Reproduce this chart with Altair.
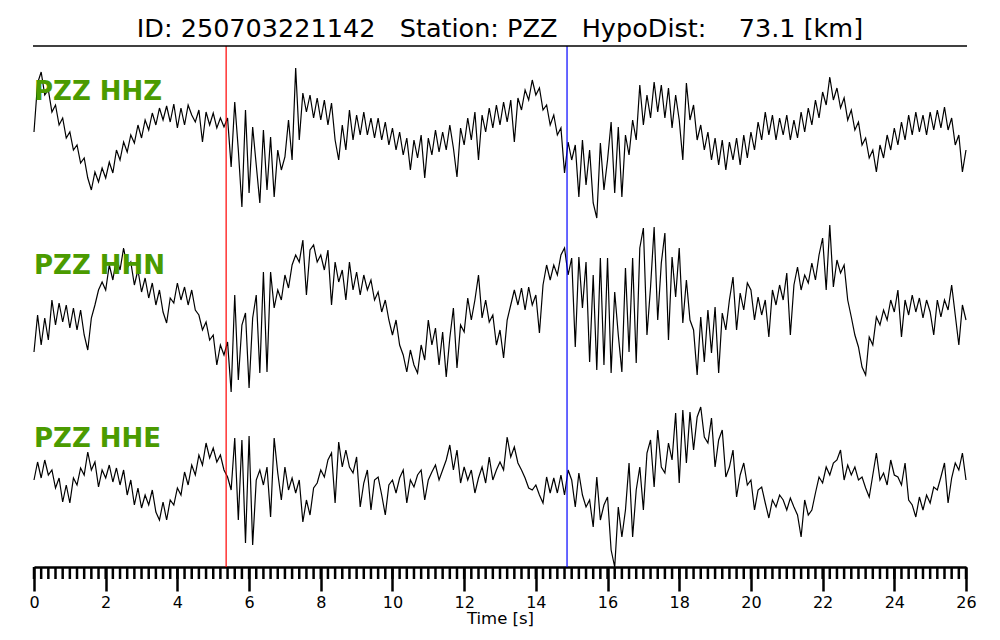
import altair as alt
import pandas as pd

# ---------------- data (amplitudes, one row per second, 0.1 s samples)
channels = ["PZZ HHZ", "PZZ HHN", "PZZ HHE"]
dt = 0.1
p_time = 5.36
s_time = 14.87
title_text = "ID: 250703221142\u00a0\u00a0\u00a0Station: PZZ\u00a0\u00a0\u00a0HypoDist:\u00a0\u00a0\u00a0\u00a073.1 [km]"
major_ticks = [0, 2, 4, 6, 8, 10, 12, 14, 16, 18, 20, 22, 24, 26]
minor_ticks = [round(i * 0.2, 1) for i in range(131)]

hhz = [
    -2, 47, 58, 35, 40, 18, 25, 5, 12, -8,
    -2, -20, -15, -33, -28, -48, -60, -42, -52, -38,
    -48, -32, -43, -20, -30, -12, -22, -5, -13, 5,
    -8, 10, 0, 17, 5, 22, 10, 24, 8, 26,
    2, 22, 5, 25, 15, 8, 20, -12, 18, 5,
    17, 2, 12, 3, 12, -37, 28, -20, -77, 20,
    -63, 3, -35, -73, 0, -60, -7, -67, -20, -40,
    -27, 10, -30, 62, -10, 37, 18, 35, 12, 32,
    10, 30, 5, 27, -10, -30, 5, -20, 20, -10,
    15, -5, 18, -5, 12, -8, 12, -10, 8, -15,
    2, -20, -2, -25, -8, -40, -10, -28, -5, -48,
    -8, -25, 0, -22, -2, -20, 5, -18, -47, 2,
    -15, 12, -10, 18, -30, 15, -2, 22, 2, 25,
    5, 28, 8, 30, -12, 32, 20, 40, 30, 50,
    35, 42, 20, 25, 5, 15, -5, 2, -43, -12,
    -30, -15, -67, -10, -55, -20, -73, -88, -13, -60,
    -30, 8, -63, 3, -67, -5, -25, 10, -10, 45,
    5, 35, 12, 48, 18, 45, 12, 42, 2, 35,
    10, -30, 47, 10, 25, -10, 5, -20, -2, -30,
    -8, -35, -10, -40, -12, -30, -8, -35, -5, -28,
    -2, -20, 8, -10, 18, -5, 15, -10, 12, -5,
    15, -10, 10, -8, 18, -2, 22, 5, 30, 12,
    38, 25, 53, 30, 42, 22, 32, 10, 20, 0,
    8, -15, -8, -28, -20, -42, -15, -28, -5, -20,
    2, -15, 8, -10, 15, -5, 18, -2, 15, -5,
    18, 0, 20, 2, 23, 0, 12, -15, -5, -42,
    -20,
]

hhn = [
    -47, -10, -40, -13, -35, 5, -20, 2, -17, 0,
    -23, -3, -25, -5, -30, -45, -13, 0, 15, 23,
    15, 40, 25, 47, 35, 57, 37, 43, 20, 35,
    13, 27, 7, 22, 0, 15, -7, -18, 7, 2,
    22, 5, 18, 0, 15, -5, -10, -25, -17, -35,
    -30, -60, -40, -50, -37, -87, 10, -75, -20, -8,
    -83, -13, 10, -68, 33, -67, 33, -3, 15, 5,
    30, 17, 40, 50, 43, 65, 10, 55, 60, 43,
    50, 35, 55, 0, 43, 23, 35, 5, 43, 15,
    33, 10, 30, 15, 25, 5, 13, -7, 5, -15,
    -30, -15, -40, -50, -67, -45, -60, -68, -40, -55,
    -15, -40, -23, -60, -27, -72, -33, -3, -63, -20,
    -27, 7, -15, 5, 30, -13, 5, -17, -10, -40,
    -25, -53, -15, 0, 15, 0, 17, -5, 18, 0,
    10, -28, 20, 40, 25, 40, 30, 50, 57, 30,
    47, -42, 48, -3, 43, -57, 30, -65, 47, -60,
    47, -68, 13, -30, -67, 37, -47, 47, -58, 57,
    77, -30, 18, 78, -15, 42, 72, -35, 48, 8,
    57, -18, 25, -15, -25, -70, -12, -57, -5, -48,
    -2, -68, -8, -25, 5, 28, -25, 12, -5, 22,
    15, -15, 8, -10, 5, -32, 15, 0, 20, 5,
    32, -30, 20, 38, 15, 30, 22, 42, 25, 50,
    67, 15, 80, 18, 45, 32, 40, 5, -12, -30,
    -42, -62, -70, -32, -40, -12, -20, -5, -15, 5,
    -7, 15, -32, 5, -10, 10, -7, 7, -13, 5,
    -7, -30, 5, -12, 5, -5, 20, -10, -40, 0,
    -15,
]

hhe = [
    0, 18, 2, 20, 5, 10, -8, 2, -22, -5,
    -23, 2, -5, 12, 5, 28, 10, 18, -7, 10,
    2, 15, -2, 12, -5, 10, -15, 0, -25, -8,
    -28, -15, -25, -10, -32, -40, -22, -40, -20, -25,
    -8, -15, 8, -5, 15, 5, 25, 15, 37, 22,
    32, 18, 25, 10, 3, -10, 42, -40, 40, -63,
    44, -65, 0, 10, -5, 13, -37, 42, 7, -20,
    13, -10, 2, -13, 0, -42, -20, -35, -8, -3,
    10, 3, 20, 27, -23, 38, 13, 30, 13, 7,
    23, -27, -3, 10, -30, 0, 3, -15, -35, -5,
    0, -13, 2, 10, -23, 0, -7, 5, 10, -20,
    0, 8, 15, 0, 10, 20, 35, 10, 30, -3,
    13, 0, 10, -13, 2, 13, -3, 23, 0, 10,
    18, 10, 43, 23, 33, 17, 10, 2, -8, -10,
    -5, -15, -23, 3, -13, 2, -13, 5, -15, 10,
    0, -27, 7, -15, -27, -20, -47, 3, -40, -25,
    -17, -70, -87, -27, -57, -30, 17, -57, -10, 13,
    -30, 27, 40, -7, 50, 13, 7, 37, 20, 67,
    -3, 70, 17, 68, 30, 63, 73, 43, 37, 62,
    13, 40, 50, 3, 13, 30, -17, 5, 17, -5,
    0, -30, -10, -7, -23, -38, -20, -27, -15, -20,
    -30, -18, -27, -35, -57, -20, -35, -30, -13, 3,
    -3, 13, 5, 17, 20, 30, 0, 15, 5, 13,
    0, 3, -8, -17, 5, 27, 0, 7, -5, 20,
    5, 3, -5, 17, -20, -25, -37, -17, -30, -15,
    -23, -7, -10, 3, 17, -23, 2, 17, 10, 27,
    0,
]

lens = [len(hhz), len(hhn), len(hhe)]
if any(n != 261 for n in lens):
    raise SystemExit(f"length mismatch: {lens}")

rows = []
for name, vals in zip(channels, [hhz, hhn, hhe]):
    for i, v in enumerate(vals):
        rows.append({"channel": name, "t": round(i * dt, 1), "amp": v})
df = pd.DataFrame(rows)

# ---------------- layout / style
W, H = 932, 521
offsets_expr = ("datum.amp + (datum.channel == 'PZZ HHZ' ? 437 : "
                "datum.channel == 'PZZ HHN' ? 262 : 87)")
label_y = {"PZZ HHZ": 54, "PZZ HHN": 228, "PZZ HHE": 401}
green = "#4b9b00"
FONT = "DejaVu Sans"

x_enc = alt.X(
    "t:Q",
    scale=alt.Scale(domain=[0, 26], nice=False, zero=False),
    axis=alt.Axis(
        values=major_ticks, tickSize=24, tickWidth=2.5, tickColor="black",
        domainWidth=2.5, domainColor="black", grid=False,
        labelFontSize=16, labelFont=FONT, labelColor="black", labelPadding=3,
        labelFlush=False, labelOverlap=False, format="d",
        title="Time [s]", titleFontSize=16.5, titleFont=FONT,
        titleFontWeight="normal", titleColor="black", titlePadding=0,
    ),
)
y_scale = alt.Scale(domain=[0, H], nice=False, zero=False)

traces = (
    alt.Chart(df)
    .transform_calculate(yy=offsets_expr)
    .mark_line(color="black", strokeWidth=1.2)
    .encode(x=x_enc, y=alt.Y("yy:Q", scale=y_scale, axis=None), detail="channel:N")
)

minor = (
    alt.Chart(pd.DataFrame({"t": minor_ticks}))
    .mark_rule(color="black", strokeWidth=2.5)
    .encode(x=x_enc, y=alt.value(H), y2=alt.value(H + 12))
)

p_line = (
    alt.Chart(pd.DataFrame({"t": [p_time]}))
    .mark_rule(color="#ff0000", strokeWidth=1.2)
    .encode(x=x_enc, y=alt.value(0), y2=alt.value(H))
)
s_line = (
    alt.Chart(pd.DataFrame({"t": [s_time]}))
    .mark_rule(color="#0000ff", strokeWidth=1.2)
    .encode(x=x_enc, y=alt.value(0), y2=alt.value(H))
)

top_line = (
    alt.Chart(pd.DataFrame({"a": [0]}))
    .mark_rule(color="black", strokeWidth=1.5)
    .encode(x=alt.value(-1), x2=alt.value(W + 1), y=alt.value(0))
)

title = (
    alt.Chart(pd.DataFrame({"label": [title_text]}))
    .mark_text(font=FONT, fontSize=25.5, align="center", baseline="alphabetic", color="black")
    .encode(x=alt.value(W / 2), y=alt.value(-9), text="label:N")
)

labels = []
for name in channels:
    labels.append(
        alt.Chart(pd.DataFrame({"label": [name]}))
        .mark_text(font=FONT, fontSize=26, fontWeight="bold", align="left",
                   baseline="alphabetic", color=green)
        .encode(x=alt.value(0), y=alt.value(label_y[name]), text="label:N")
    )

chart = (
    alt.layer(traces, p_line, s_line, *labels, top_line, minor, title)
    .properties(
        width=W, height=H,
        autosize=alt.AutoSizeParams(type="none"),
        padding={"left": 26, "top": 38, "right": 26, "bottom": 65},
    )
    .configure_view(strokeWidth=0)
)

chart.save("out.html", embed_options={"renderer": "svg", "actions": False})
